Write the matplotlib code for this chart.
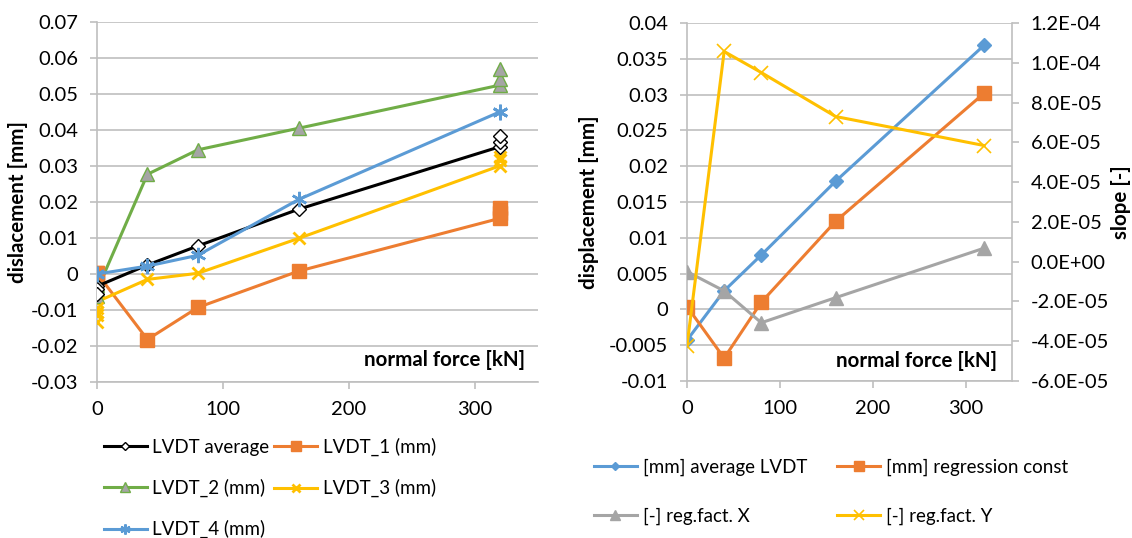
import matplotlib
matplotlib.use("Agg")
from matplotlib import pyplot as plt
from matplotlib.ticker import FuncFormatter, MultipleLocator

plt.rcParams['font.family'] = ['Lato', 'DejaVu Sans']

# left chart data
force = [0, 40, 80, 160, 320]
lvdt_avg = [-0.0034, 0.0025, 0.0078, 0.018, 0.0354]
lvdt_1 = [0.0002, -0.0182, -0.0093, 0.0008, 0.0155]
lvdt_2 = [-0.0045, 0.0277, 0.0345, 0.0405, 0.0525]
lvdt_3 = [-0.0077, -0.0015, 0.0002, 0.0099, 0.0301]
lvdt_4 = [0.0, 0.0022, 0.0052, 0.0207, 0.0451]

# repeated readings at 0 and 320 kN (markers only)
extra_x = [0, 0, 320, 320]
avg_extra = [-0.0042, -0.0055, 0.0368, 0.0384]
l1_extra = [0.0, 0.0003, 0.0170, 0.0182]
l2_extra = [-0.003, -0.006, 0.0543, 0.057]
l3_extra = [-0.0095, -0.0113, 0.0318, 0.0326]
l3_extra2_x = [0, 0]
l3_extra2 = [-0.0133, -0.0105]
l4_extra = [0.0, 0.0, 0.0451, 0.0451]

# right chart data
mm_avg = [-0.0043, 0.0026, 0.0076, 0.0179, 0.0369]
mm_const = [0.0004, -0.0068, 0.0010, 0.0123, 0.0302]
fact_x = [-0.5e-5, -1.47e-5, -3.07e-5, -1.81e-5, 0.68e-5]
fact_y = [-4.22e-5, 1.057e-4, 0.951e-4, 0.73e-4, 0.584e-4]

BLACK = '#000000'
ORANGE = '#ED7D31'
GREEN = '#70AD47'
GRAY = '#A5A5A5'
YELLOW = '#FFC000'
BLUE = '#5B9BD5'
GRID = '#BFBFBF'
FS = 13.5
BOLD_FS = 14.8
TICK_FS = 14.5
STAR = (6, 2, 0)

fig = plt.figure(figsize=(11.32, 5.38), dpi=100)


def style_axes(ax):
    for side in ('top', 'right'):
        ax.spines[side].set_visible(False)
    for side in ('left', 'bottom'):
        ax.spines[side].set_color(GRID)
        ax.spines[side].set_linewidth(1.2)
    ax.grid(axis='y', color=GRID, linewidth=1.2)
    ax.set_axisbelow(True)
    ax.tick_params(colors=GRID, labelcolor='black', labelsize=TICK_FS,
                   length=5, width=1.2, pad=8.5)


# ---- left chart
ax1 = fig.add_axes([0.0857, 0.29, 0.3896, 0.669])
style_axes(ax1)
h_avg, = ax1.plot(force, lvdt_avg, color=BLACK, lw=2.2, marker='D', ms=7,
                  mfc='white', mec=BLACK, mew=1, label='LVDT average',
                  zorder=5)
h_1, = ax1.plot(force, lvdt_1, color=ORANGE, lw=2.2, marker='s', ms=10,
                label='LVDT_1 (mm)', zorder=4)
h_2, = ax1.plot(force, lvdt_2, color=GREEN, lw=2.2, marker='^', ms=10,
                mfc=GRAY, mec=GREEN, label='LVDT_2 (mm)', zorder=4)
h_3, = ax1.plot(force, lvdt_3, color=YELLOW, lw=2.2, marker='x', ms=9, mew=2,
                label='LVDT_3 (mm)', zorder=4)
h_4, = ax1.plot(force, lvdt_4, color=BLUE, lw=2.2, marker=STAR, ms=11,
                mew=1.8, label='LVDT_4 (mm)', zorder=5)
ax1.plot(extra_x, avg_extra, ls='none', marker='D', ms=7, mfc='white',
         mec=BLACK, zorder=5)
ax1.plot(extra_x, l1_extra, ls='none', marker='s', ms=10, color=ORANGE,
         zorder=4)
ax1.plot(extra_x, l2_extra, ls='none', marker='^', ms=10, mfc=GRAY,
         mec=GREEN, zorder=4)
ax1.plot(extra_x, l3_extra, ls='none', marker='x', ms=9, mew=2,
         color=YELLOW, zorder=4)
ax1.plot(l3_extra2_x, l3_extra2, ls='none', marker='x', ms=9, mew=2,
         color=YELLOW, zorder=4)
ax1.plot(extra_x, l4_extra, ls='none', marker=STAR, ms=11, mew=1.8,
         color=BLUE, zorder=5)
ax1.set_xlim(0, 350)
ax1.set_ylim(-0.03, 0.07)
ax1.xaxis.set_major_locator(MultipleLocator(100))
ax1.yaxis.set_major_locator(MultipleLocator(0.01))
ax1.yaxis.set_major_formatter(FuncFormatter(lambda v, p: f"{round(v, 4):g}"))
ax1.set_ylabel('dislacement [mm]', fontsize=BOLD_FS, fontweight='bold',
               labelpad=2)
ax1.text(0.97, 0.06, 'normal force [kN]', transform=ax1.transAxes,
         ha='right', va='center', fontsize=BOLD_FS, fontweight='bold')
# legend filled row by row like the original
left_handles = [h_avg, h_2, h_4, h_1, h_3]
fig.legend(left_handles, [h.get_label() for h in left_handles],
           loc='upper left', bbox_to_anchor=(0.085, 0.2), ncol=2,
           frameon=False, fontsize=FS, handlelength=2.3, handletextpad=0.3,
           columnspacing=0.25, labelspacing=1.22, borderaxespad=0,
           markerscale=0.65)

# ---- right chart
ax2 = fig.add_axes([0.6069, 0.2918, 0.2871, 0.6654])
style_axes(ax2)
ax3 = ax2.twinx()
for side in ('top', 'left', 'bottom'):
    ax3.spines[side].set_visible(False)
ax3.spines['right'].set_color(GRID)
ax3.spines['right'].set_linewidth(1.2)
ax3.tick_params(colors=GRID, labelcolor='black', labelsize=TICK_FS, length=5,
                width=1.2, pad=8.5)

l_a, = ax2.plot(force, mm_avg, color=BLUE, lw=2.2, marker='D', ms=7,
                label='[mm] average LVDT', zorder=4)
l_b, = ax2.plot(force, mm_const, color=ORANGE, lw=2.2, marker='s', ms=10,
                label='[mm] regression const', zorder=4)
l_c, = ax3.plot(force, fact_x, color=GRAY, lw=2.2, marker='^', ms=10,
                label='[-] reg.fact. X')
l_d, = ax3.plot(force, fact_y, color=YELLOW, lw=2.2, marker='x', ms=10,
                mew=1.2, label='[-] reg.fact. Y')
ax2.set_xlim(0, 350)
ax2.set_ylim(-0.01, 0.04)
ax2.xaxis.set_major_locator(MultipleLocator(100))
ax2.yaxis.set_major_locator(MultipleLocator(0.005))
ax2.yaxis.set_major_formatter(FuncFormatter(lambda v, p: f"{round(v, 4):g}"))
ax3.set_ylim(-6e-5, 1.2e-4)
ax3.yaxis.set_major_locator(MultipleLocator(2e-5))
ax3.yaxis.set_major_formatter(FuncFormatter(lambda v, p: f"{v:.1E}"))
ax2.set_ylabel('displacement [mm]', fontsize=BOLD_FS, fontweight='bold',
               labelpad=7)
ax3.set_ylabel('slope [-]', fontsize=BOLD_FS, fontweight='bold', labelpad=1)
ax2.text(0.955, 0.056, 'normal force [kN]', transform=ax2.transAxes,
         ha='right', va='center', fontsize=BOLD_FS, fontweight='bold')
right_handles = [l_a, l_c, l_b, l_d]
fig.legend(right_handles, [h.get_label() for h in right_handles],
           loc='upper left', bbox_to_anchor=(0.518, 0.162), ncol=2,
           frameon=False, fontsize=FS, handlelength=2.3, handletextpad=0.3,
           columnspacing=1.6, labelspacing=1.72, borderaxespad=0,
           markerscale=0.65)

fig.savefig('out.png', dpi=100)
